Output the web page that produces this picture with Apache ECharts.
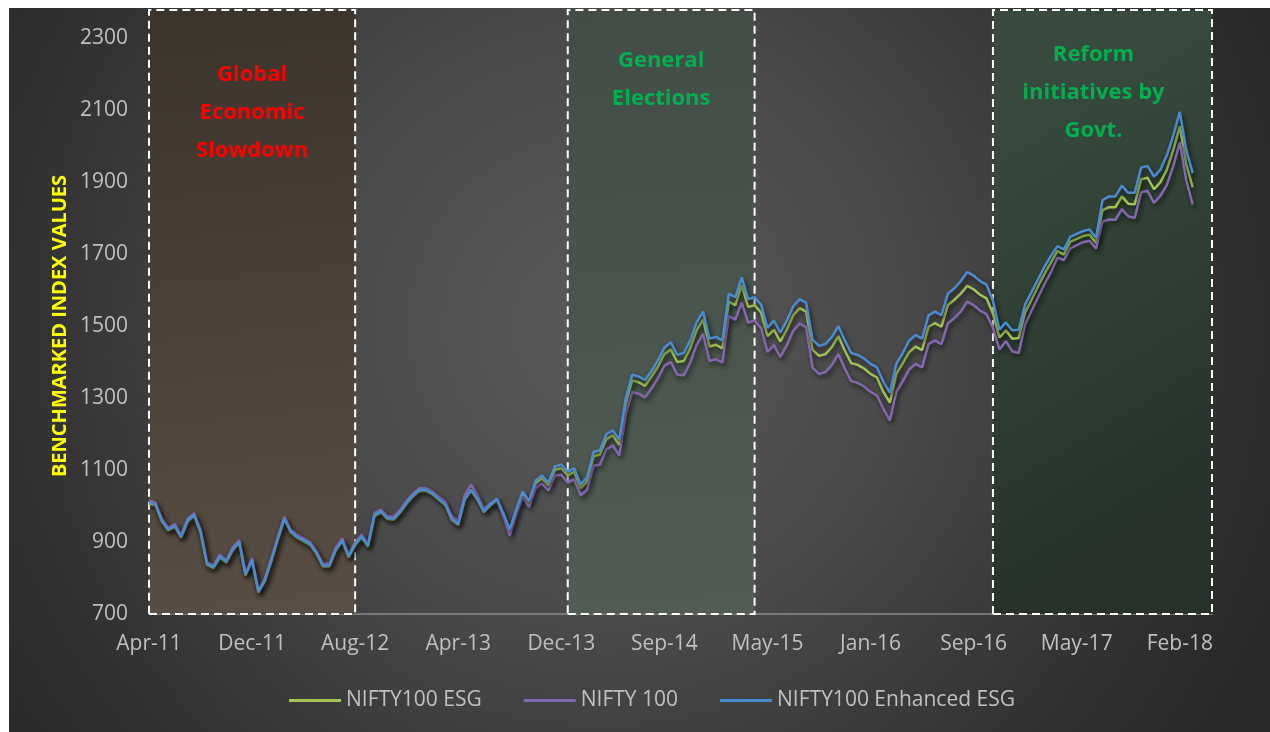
<!DOCTYPE html>
<html>
<head>
<meta charset="utf-8">
<script src="https://cdn.jsdelivr.net/npm/echarts@6/dist/echarts.min.js"></script>
<style>
html,body{margin:0;padding:0;background:#ffffff;width:1270px;height:732px;overflow:hidden;}
#chart{position:absolute;left:9px;top:8px;width:1261px;height:724px;
background:radial-gradient(circle 740px at 47% 44%, #5a5a5a 0%, #4a4a4a 40%, #343434 75%, #282828 100%);}
</style>
</head>
<body>
<div id="chart"></div>
<script>
// ---- data ----
const tickLabels = ['Apr-11','Dec-11','Aug-12','Apr-13','Dec-13','Sep-14','May-15','Jan-16','Sep-16','May-17','Feb-18'];
const pointsPerLabel = 16;
const categoryCount = 166;

const niftyEsg = [
1007,1002,957,932,942,912,957,972,927,837,827,857,842,877,897,807,847,759,792,847,907,962,927,912,902,892,867,832,832,877,902,857,892,912,887,972,982,964,962,982,1007,1027,1042,1042,1032,
1017,1002,962,947,1017,1042,1017,982,1002,1016,976,931,985,1034,1009,1063,1077,1057,1101,1105,1085,1095,1050,1068,1138,1143,1186,1196,1170,1285,1349,1344,1334,1359,1387,1422,1435,1400,
1403,1438,1488,1518,1443,1448,1438,1568,1558,1613,1553,1558,1538,1472,
1490,1457,1490,1530,1550,1540,
1434,1417,1422,1442,1472,1432,1397,1392,1382,1367,1357,1317,1287,1367,1397,
1428,1443,1433,1498,1508,1498,1558,1573,1590,
1612,1602,1587,1577,1535,
1468,1488,1465,1467,1538,1573,1610,1645,1676,
1708,1699,1734,1742,1750,1754,1731,
1822,1830,1830,1860,1840,1838,1908,1912,1880,1900,
1935,1990,2055,1950,1885];

const nifty100 = [
1015,1010,965,940,950,920,965,980,935,845,835,865,850,885,905,815,855,767,800,855,915,970,935,920,910,900,875,840,840,885,910,865,900,920,895,980,990,972,970,990,1015,1035,1050,1050,1040,
1026,1011,973,958,1030,1059,1030,993,1007,1015,972,917,978,1025,997,1050,1063,1043,1085,1087,1065,1075,1030,1045,1112,1115,1158,1168,1140,1255,1317,1312,1302,1327,1355,1390,1400,1365,
1363,1398,1448,1478,1403,1408,1398,1528,1518,1565,1510,1515,1495,1428,
1447,1414,1447,1487,1507,1497,
1384,1367,1372,1392,1422,1382,1347,1342,1332,1317,1307,1270,1238,1317,1347,
1380,1395,1385,1450,1460,1450,1508,1522,1540,
1568,1558,1543,1533,1495,
1435,1458,1430,1425,1505,1543,1580,1617,1650,
1690,1683,1716,1725,1733,1737,1715,
1790,1796,1795,1825,1805,1800,1872,1875,1842,1862,
1892,1945,2010,1905,1838];

const niftyEnhancedEsg = [
1010,1005,960,935,945,915,960,975,930,840,830,860,845,880,900,810,850,762,795,850,910,965,930,915,905,895,870,835,835,880,905,860,895,915,890,975,985,967,965,985,1010,1030,1045,1045,1035,
1020,1005,965,950,1020,1045,1020,985,1005,1020,980,935,990,1040,1015,1070,1085,1065,1110,1115,1095,1105,1060,1080,1150,1155,1200,1210,1185,1300,1365,1360,1350,1375,1405,1440,1455,1420,
1425,1460,1510,1540,1465,1470,1460,1590,1580,1635,1575,1580,1560,1495,
1515,1482,1515,1555,1575,1565,
1462,1445,1450,1470,1500,1460,1425,1420,1410,1395,1385,1345,1315,1395,1425,
1460,1475,1465,1530,1540,1530,1590,1605,1625,
1650,1640,1625,1615,1570,
1490,1510,1488,1490,1560,1595,1630,1665,1695,
1722,1713,1748,1756,1764,1768,1745,
1850,1860,1860,1890,1870,1870,1940,1945,1915,1935,
1975,2030,2095,1990,1925];

const seriesNames = ['NIFTY100 ESG','NIFTY 100','NIFTY100 Enhanced ESG'];
const regionLabels = ['Global\nEconomic\nSlowdown','General\nElections','Reform\ninitiatives by\nGovt.'];
const regionStart = [0, 65, 131];
const regionEnd = [32, 94, 165];

// ---- chart ----
const Y_MIN = 700, Y_MAX = 2378, Y_STEP = 200;
const categories = [];
for (let i = 0; i < categoryCount; i++) categories.push(String(i));

const FONT = '"Open Sans", "Noto Sans", sans-serif';
const regionFills = [
  {type:'linear',x:0,y:0,x2:0.3,y2:1,colorStops:[{offset:0,color:'#3c332b'},{offset:1,color:'#594e44'}]},
  {type:'linear',x:0,y:0,x2:0.2,y2:1,colorStops:[{offset:0,color:'#414d45'},{offset:1,color:'#505c54'}]},
  {type:'linear',x:0,y:0.2,x2:1,y2:0.8,colorStops:[{offset:0,color:'#374a3d'},{offset:1,color:'#26322a'}]}
];
const regionTextColors = ['#ff0000','#00b050','#00b050'];
const regionLabelDist = [47, 33, 27];
const regionLabelOffset = [[0,0],[0,0],[-9,0]];

const markAreaData = regionLabels.map((t, k) => [
  {
    xAxis: String(regionStart[k]), yAxis: Y_MIN,
    itemStyle: {color: regionFills[k], borderColor:'#ffffff', borderWidth:2, borderType:[8,5]},
    label: {show:true, formatter:t, position:'insideTop', distance: regionLabelDist[k], offset: regionLabelOffset[k],
      color: regionTextColors[k], fontFamily: FONT, fontWeight:'bold', fontSize:22, lineHeight:38, align:'center'}
  },
  {xAxis: String(regionEnd[k]), yAxis: Y_MAX}
]);

const colors = ['#a2c655','#8467b0','#4b8bd0'];
const lineShadow = {shadowColor:'rgba(0,0,0,0.6)', shadowBlur:5, shadowOffsetX:2, shadowOffsetY:3};

const chart = echarts.init(document.getElementById('chart'), null, {renderer:'canvas'});
chart.setOption({
  backgroundColor: 'transparent',
  animation: false,
  color: colors,
  grid: {left:140, right:58, top:2, bottom:118, containLabel:false},
  legend: {
    data: seriesNames, left: 275, top: 677,
    icon: 'rect', itemWidth: 52, itemHeight: 3, itemGap: 42,
    textStyle: {color:'#c0c0c0', fontFamily: FONT, fontSize: 21}
  },
  xAxis: {
    type:'category', data: categories, boundaryGap:false,
    axisLine: {show:true, lineStyle:{color:'#8a8a8a', width:1.5}},
    axisTick: {show:false},
    splitLine: {show:false},
    axisLabel: {
      interval: pointsPerLabel - 1, margin: 20, color:'#c0c0c0', fontFamily: FONT, fontSize: 21,
      hideOverlap: false,
      formatter: (v, idx) => (idx % pointsPerLabel === 0 ? (tickLabels[idx / pointsPerLabel] || '') : '')
    }
  },
  yAxis: {
    type:'value', min:Y_MIN, max:Y_MAX, interval:Y_STEP,
    axisLine:{show:false}, axisTick:{show:false}, splitLine:{show:false},
    axisLabel:{color:'#c0c0c0', fontFamily: FONT, fontSize:21, margin:21, showMaxLabel:false,
      formatter: v => String(v)}
  },
  graphic: [{
    type:'text', x:51, y:318, rotation: Math.PI/2,
    style:{text:'BENCHMARKED INDEX VALUES', fill:'#ffff00', font:'bold 20px "Open Sans", sans-serif',
      textAlign:'center', textVerticalAlign:'middle'}
  }],
  series: [
    {name: seriesNames[0], type:'line', data: niftyEsg, symbol:'none', showSymbol:false,
     lineStyle: Object.assign({width:2.5, color: colors[0]}, lineShadow), z: 3,
     markArea: {silent:true, data: markAreaData, z: 1}},
    {name: seriesNames[1], type:'line', data: nifty100, symbol:'none', showSymbol:false,
     lineStyle: Object.assign({width:2.5, color: colors[1]}, lineShadow), z: 4},
    {name: seriesNames[2], type:'line', data: niftyEnhancedEsg, symbol:'none', showSymbol:false,
     lineStyle: Object.assign({width:2.5, color: colors[2]}, lineShadow), z: 5}
  ]
});
</script>
</body>
</html>
